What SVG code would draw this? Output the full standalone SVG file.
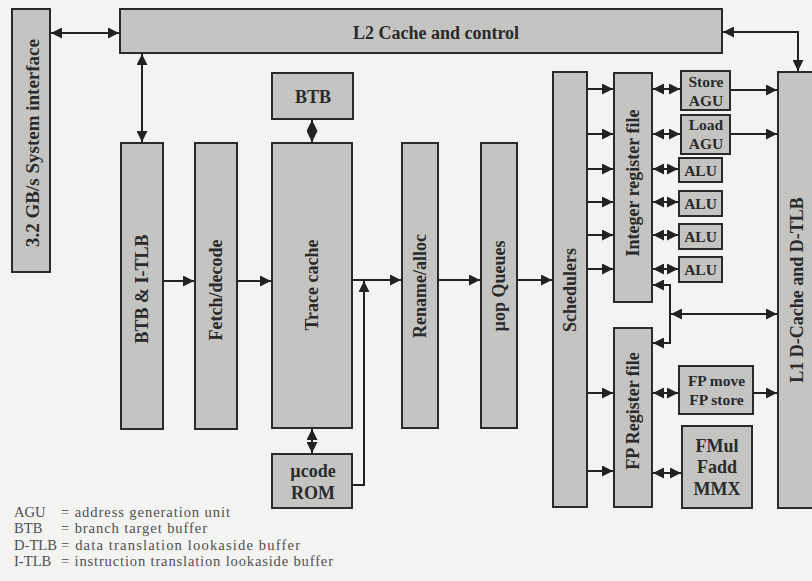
<svg xmlns="http://www.w3.org/2000/svg" width="812" height="581" viewBox="0 0 812 581">
<defs>
<marker id="ah" viewBox="0 0 10 10" refX="10" refY="5" markerWidth="11" markerHeight="11" markerUnits="userSpaceOnUse" orient="auto-start-reverse">
<path d="M0,0 L10,5 L0,10 z" fill="#222"/>
</marker>
<style>
.box{fill:#c4c4c2;stroke:#2a2a2a;stroke-width:2}
.lbl{font-family:"Liberation Serif","Times New Roman",serif;font-weight:bold;fill:#2a2a2a;text-anchor:middle}
.big{font-size:18px}
.sm{font-size:15.5px}
.leg{font-family:"Liberation Serif","Times New Roman",serif;font-size:14.6px;fill:#505050}
.c{fill:none;stroke:#222;stroke-width:2}
.a{marker-end:url(#ah)}
.d{marker-start:url(#ah);marker-end:url(#ah)}
</style>
</defs>
<rect width="812" height="581" fill="#f3f3f1"/>

<g id="sys"><rect class="box" x="12" y="9" width="38" height="263"/><text class="lbl" font-size="19" transform="translate(32,143) rotate(-90)" dy="0.35em">3.2 GB/s System interface</text></g>
<g id="l2"><rect class="box" x="120" y="9" width="602" height="44"/><text class="lbl big" x="436" y="39">L2 Cache and control</text></g>
<g id="btbitlb"><rect class="box" x="121" y="143" width="42" height="286"/><text class="lbl big" transform="translate(142,289) rotate(-90)" dy="0.35em">BTB &amp; I-TLB</text></g>
<g id="fetch"><rect class="box" x="195" y="143" width="42" height="286"/><text class="lbl big" transform="translate(216,290) rotate(-90)" dy="0.35em">Fetch/decode</text></g>
<g id="btb"><rect class="box" x="272" y="73" width="81" height="46"/><text class="lbl big" x="313" y="103">BTB</text></g>
<g id="trace"><rect class="box" x="272" y="143" width="80" height="285"/><text class="lbl big" transform="translate(312,285) rotate(-90)" dy="0.35em">Trace cache</text></g>
<g id="ucode"><rect class="box" x="272" y="454" width="80" height="54"/><text class="lbl big" x="313" y="477">µcode</text><text class="lbl big" x="313" y="499">ROM</text></g>
<g id="rename"><rect class="box" x="402" y="143" width="36" height="285"/><text class="lbl big" transform="translate(420,286) rotate(-90)" dy="0.35em">Rename/alloc</text></g>
<g id="uopq"><rect class="box" x="481" y="143" width="36" height="285"/><text class="lbl big" transform="translate(499,286) rotate(-90)" dy="0.35em">µop Queues</text></g>
<g id="sched"><rect class="box" x="553" y="72" width="34" height="435"/><text class="lbl big" transform="translate(570,290) rotate(-90)" dy="0.35em">Schedulers</text></g>
<g id="intreg"><rect class="box" x="614" y="73" width="38" height="229"/><text class="lbl big" transform="translate(633,183) rotate(-90)" dy="0.35em">Integer register file</text></g>
<g id="fpreg"><rect class="box" x="614" y="328" width="38" height="179"/><text class="lbl big" transform="translate(633,411) rotate(-90)" dy="0.35em">FP Register file</text></g>
<g id="storeagu"><rect class="box" x="681" y="71" width="49" height="39"/><text class="lbl sm" x="706" y="87">Store</text><text class="lbl sm" x="706" y="106">AGU</text></g>
<g id="loadagu"><rect class="box" x="681" y="115" width="49" height="39"/><text class="lbl sm" x="706" y="130">Load</text><text class="lbl sm" x="706" y="149">AGU</text></g>
<g id="alu1"><rect class="box" x="679" y="158" width="43" height="24"/><text class="lbl sm" x="700.5" y="176">ALU</text></g>
<g id="alu2"><rect class="box" x="679" y="191" width="43" height="25"/><text class="lbl sm" x="700.5" y="209">ALU</text></g>
<g id="alu3"><rect class="box" x="679" y="224" width="43" height="25"/><text class="lbl sm" x="700.5" y="242">ALU</text></g>
<g id="alu4"><rect class="box" x="679" y="257" width="43" height="25"/><text class="lbl sm" x="700.5" y="275">ALU</text></g>
<g id="fpmove"><rect class="box" x="679" y="366" width="74" height="48"/><text class="lbl sm" x="716.5" y="386">FP move</text><text class="lbl sm" x="716.5" y="405">FP store</text></g>
<g id="fmul"><rect class="box" x="682" y="426" width="70" height="82"/><text class="lbl big" x="717" y="452">FMul</text><text class="lbl big" x="717" y="473">Fadd</text><text class="lbl big" x="717" y="495">MMX</text></g>
<g id="l1"><rect class="box" x="778" y="72" width="50" height="436"/><text class="lbl big" transform="translate(797,290) rotate(-90)" dy="0.35em">L1 D-Cache and D-TLB</text></g>

<g id="connectors">
<line class="c d" x1="51" y1="33" x2="119" y2="33"/>
<line class="c d" x1="142" y1="54" x2="142" y2="142"/>
<polyline class="c d" points="723,32 798,32 798,71"/>
<line class="c a" x1="163" y1="281" x2="194" y2="281"/>
<line class="c a" x1="237" y1="281" x2="271" y2="281"/>
<line class="c d" x1="312" y1="120" x2="312" y2="142"/>
<line class="c d" x1="312" y1="429" x2="312" y2="453"/>
<line class="c a" x1="352" y1="280" x2="401" y2="280"/>
<polyline class="c a" points="352,485 364,485 364,281"/>
<line class="c a" x1="438" y1="280" x2="480" y2="280"/>
<line class="c a" x1="517" y1="280" x2="552" y2="280"/>
<line class="c a" x1="587" y1="89" x2="613" y2="89"/>
<line class="c a" x1="587" y1="134" x2="613" y2="134"/>
<line class="c a" x1="587" y1="169" x2="613" y2="169"/>
<line class="c a" x1="587" y1="202" x2="613" y2="202"/>
<line class="c a" x1="587" y1="235" x2="613" y2="235"/>
<line class="c a" x1="587" y1="269" x2="613" y2="269"/>
<line class="c a" x1="587" y1="393" x2="613" y2="393"/>
<line class="c a" x1="587" y1="471" x2="613" y2="471"/>
<line class="c d" x1="653" y1="89" x2="680" y2="89"/>
<line class="c d" x1="653" y1="134" x2="680" y2="134"/>
<line class="c d" x1="653" y1="169" x2="678" y2="169"/>
<line class="c d" x1="653" y1="202" x2="678" y2="202"/>
<line class="c d" x1="653" y1="235" x2="678" y2="235"/>
<line class="c d" x1="653" y1="269" x2="678" y2="269"/>
<line class="c d" x1="653" y1="393" x2="678" y2="393"/>
<line class="c d" x1="653" y1="473" x2="681" y2="473"/>
<line class="c a" x1="730" y1="90" x2="777" y2="90"/>
<line class="c a" x1="730" y1="134" x2="777" y2="134"/>
<line class="c a" x1="753" y1="393" x2="777" y2="393"/>
<line class="c a" x1="670" y1="285" x2="653" y2="285"/>
<line class="c" x1="670" y1="284" x2="670" y2="344"/>
<line class="c a" x1="670" y1="343" x2="653" y2="343"/>
<line class="c d" x1="671" y1="314" x2="777" y2="314"/>
</g>

<g id="legend">
<text class="leg" x="14" y="517">AGU</text><text class="leg" x="61" y="517" textLength="169" lengthAdjust="spacing">= address generation unit</text>
<text class="leg" x="14" y="533.3">BTB</text><text class="leg" x="61" y="533.3" textLength="146" lengthAdjust="spacing">= branch target buffer</text>
<text class="leg" x="14" y="549.6">D-TLB</text><text class="leg" x="61" y="549.6" textLength="239" lengthAdjust="spacing">= data translation lookaside buffer</text>
<text class="leg" x="14" y="565.9">I-TLB</text><text class="leg" x="61" y="565.9" textLength="272" lengthAdjust="spacing">= instruction translation lookaside buffer</text>
</g>
</svg>
